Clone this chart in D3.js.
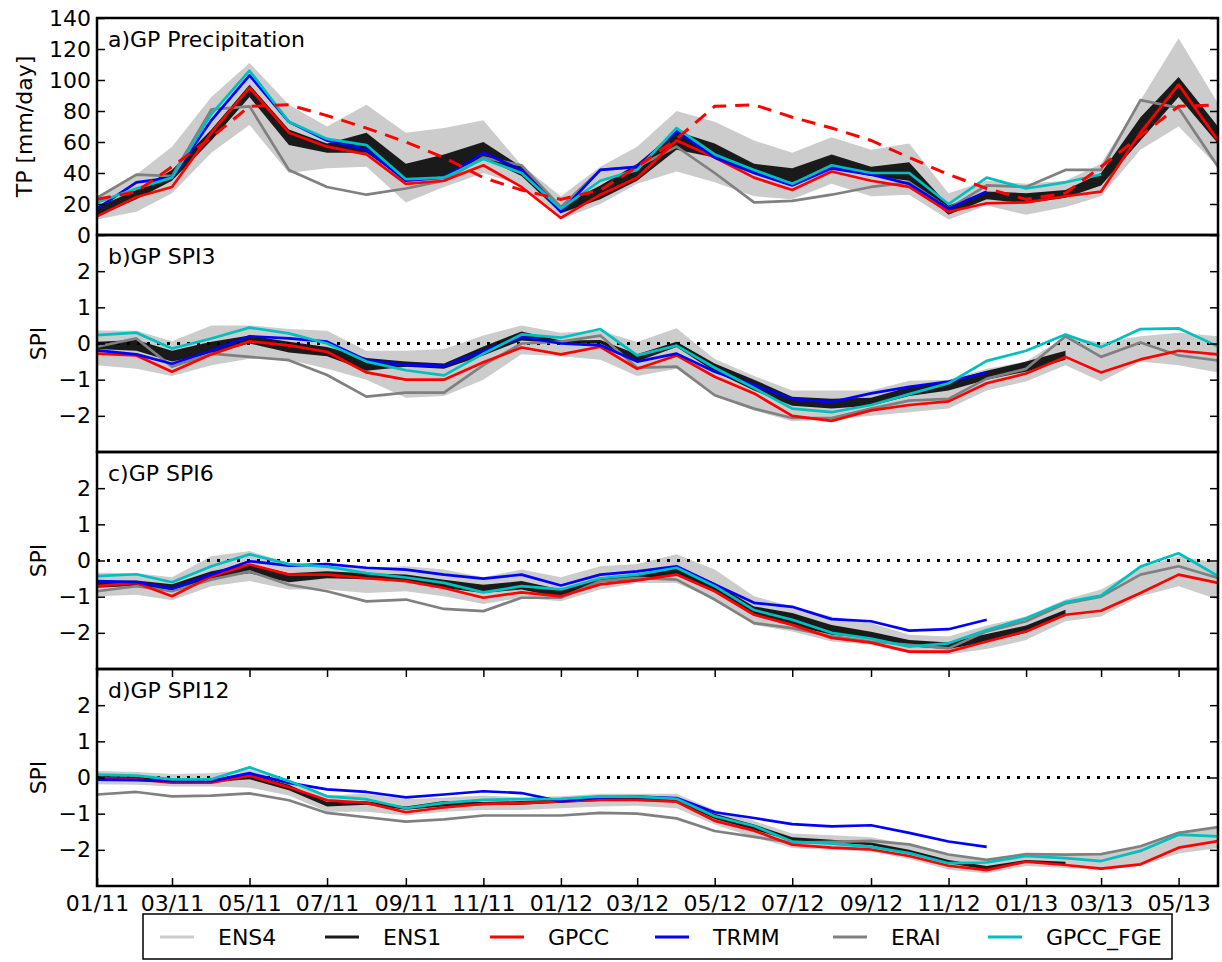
<!DOCTYPE html>
<html>
<head>
<meta charset="utf-8">
<script src="https://cdn.jsdelivr.net/npm/d3@7"></script>
<style>
  html, body { margin: 0; padding: 0; background: #fff; }
  svg { display: block; font-family: "DejaVu Sans", sans-serif; }
</style>
</head>
<body>
<svg id="chart" width="1222" height="962"></svg>
<script>
// ---- monthly time axis (first day of each month) ----
const months = [
  "2011-01","2011-02","2011-03","2011-04","2011-05","2011-06","2011-07","2011-08","2011-09","2011-10","2011-11","2011-12",
  "2012-01","2012-02","2012-03","2012-04","2012-05","2012-06","2012-07","2012-08","2012-09","2012-10","2012-11","2012-12",
  "2013-01","2013-02","2013-03","2013-04","2013-05","2013-06"
];
const xTickMonths = ["2011-01","2011-03","2011-05","2011-07","2011-09","2011-11","2012-01","2012-03","2012-05","2012-07","2012-09","2012-11","2013-01","2013-03","2013-05"];
const xTickLabels = ["01/11","03/11","05/11","07/11","09/11","11/11","01/12","03/12","05/12","07/12","09/12","11/12","01/13","03/13","05/13"];

const seriesNames = ["ENS4","ENS1","GPCC","TRMM","ERAI","GPCC_FGE"];
const seriesColors = ["#cccccc","#1a1a1a","#ff0000","#0000ff","#808080","#00bfbf"];

// ---- a) precipitation (mm/day) ----
const tpTicks = [0,20,40,60,80,100,120,140];
const tpEns4Lo = [10,15,27,53,71,40,43,44,21,31,40,32,10,20,33,41,34,25,23,33,25,26,10,19,13,18,25,55,70,44];
const tpEns4Hi = [25,39,57,89,111,84,70,84,66,69,74,45,25,44,57,80,73,61,53,63,55,59,27,35,33,35,46,87,127,85];
const tpEns1Lo = [12,23,35,61,89,58,53,53,35,38,50,38,14,23,35,55,50,40,34,43,38,35,13,23,20.5,24,32,61,89,59];
const tpEns1Hi = [18,29,42,68,97,68,59,66,46,52,60,44,19,32,46,67,59,46,43,52,44,47,19,28,27,29,40,76,102,70];
const tpGpcc   = [12,24.5,31,66,95,66,57,52,33,35,45,31,11,26,37,61,50,37,29,41,35,31,15,20.5,21,25,28,66,97,61];
const tpTrmm   = [17,34,37,74,103,73,61,55,35,37,53,42,15,42,44,67,50,40,32,43,39,33,17,28,null,null,null,null,null,null];
const tpErai   = [24,39,38,81,83,42,31,26,30,35,50,45,18,42,44,57,40,21,22,26,31,34,17,32,31,42,42,87,82,44];
const tpFge    = [21,30,37,78,106,73,62,58,36,37,49,40,17,35,42,69,52,42,33,45,40,40,20,37,30,34,39,null,null,null];
const tpClim   = [23,28,44,63,83,84,77,69,60,50,37,29,23,29,44,62,83,84,76,69,61,50,39,30,23,27,44,64,83,84];

// ---- b) SPI3 ----
const spi3Ens4Lo = [-0.6,-0.7,-0.9,-0.6,-0.42,-0.45,-0.7,-1.0,-1.5,-1.45,-1.0,-0.3,-0.35,-0.45,-0.9,-0.7,-1.45,-1.85,-2.15,-2.1,-2.0,-1.9,-1.8,-1.3,-1.05,-0.6,-1.05,-0.5,-0.6,-0.8];
const spi3Ens4Hi = [0.36,0.35,0.06,0.5,0.5,0.4,0.35,-0.2,-0.2,-0.15,0.22,0.5,0.3,0.35,0.04,0.42,-0.43,-0.9,-1.3,-1.3,-1.3,-1.03,-1.0,-0.7,-0.5,0.2,0.03,0.2,0.3,0.2];
const spi3Ens1Lo = [-0.15,-0.2,-0.5,-0.28,0,-0.25,-0.35,-0.75,-0.64,-0.7,-0.33,0.08,0,0,-0.5,-0.1,-0.78,-1.3,-1.72,-1.8,-1.72,-1.45,-1.3,-1.0,-0.78,-0.45,null,null,null,null];
const spi3Ens1Hi = [0.05,0.1,-0.2,0.05,0.22,0.05,-0.1,-0.4,-0.5,-0.55,-0.08,0.33,0.08,0.1,-0.3,0.05,-0.55,-1.0,-1.47,-1.53,-1.5,-1.2,-1.05,-0.75,-0.5,-0.2,null,null,null,null];
const spi3Gpcc = [-0.28,-0.33,-0.78,-0.3,0.06,-0.05,-0.23,-0.8,-1.0,-1.0,-0.52,-0.11,-0.3,-0.09,-0.7,-0.33,-0.92,-1.38,-2.0,-2.14,-1.85,-1.7,-1.6,-1.1,-0.83,-0.37,-0.8,-0.44,-0.2,-0.3];
const spi3Trmm = [-0.19,-0.3,-0.56,-0.2,0.2,0.14,0.05,-0.46,-0.6,-0.62,-0.2,0.18,0,-0.05,-0.5,-0.28,-0.78,-1.15,-1.53,-1.62,-1.38,-1.2,-1.05,-0.8,null,null,null,null,null,null];
const spi3Erai = [-0.09,0.14,-0.64,-0.28,-0.37,-0.46,-0.87,-1.47,-1.36,-1.36,-0.6,0,0.05,0.22,-0.67,-0.64,-1.43,-1.8,-2.06,-2.06,-1.8,-1.58,-1.53,-0.97,-0.7,0.2,-0.37,0.03,-0.33,-0.47];
const spi3Fge  = [0.23,0.3,-0.14,0.14,0.44,0.28,0,-0.5,-0.74,-0.88,-0.28,0.25,0.16,0.4,-0.33,-0.06,-0.67,-1.23,-1.8,-1.9,-1.7,-1.4,-1.1,-0.48,-0.2,0.25,-0.1,0.4,0.42,-0.08];

// ---- c) SPI6 ----
const spi6Ens4Lo = [-0.99,-0.95,-1.1,-0.71,-0.57,-0.8,-0.8,-0.9,-0.85,-0.99,-1.2,-1.03,-1.13,-0.8,-0.62,-0.62,-1.08,-1.78,-1.96,-2.24,-2.33,-2.57,-2.6,-2.45,-2.2,-1.68,-1.55,-0.99,-0.71,-1.08];
const spi6Ens4Hi = [-0.34,-0.35,-0.46,0.12,0.26,-0.06,-0.16,-0.2,-0.16,-0.25,-0.46,-0.25,-0.46,-0.16,-0.1,0.17,-0.25,-0.99,-1.27,-1.55,-1.73,-2.05,-2.1,-1.8,-1.55,-1.08,-0.8,-0.2,0.12,-0.06];
const spi6Ens1Lo = [-0.75,-0.7,-0.85,-0.5,-0.35,-0.6,-0.49,-0.52,-0.57,-0.76,-0.9,-0.8,-1.03,-0.6,-0.53,-0.37,-0.85,-1.5,-1.8,-2.05,-2.15,-2.38,-2.45,-2.25,-2.0,-1.5,null,null,null,null];
const spi6Ens1Hi = [-0.57,-0.55,-0.66,-0.3,-0.1,-0.35,-0.3,-0.35,-0.39,-0.53,-0.67,-0.57,-0.8,-0.47,-0.4,-0.15,-0.62,-1.27,-1.45,-1.78,-1.97,-2.2,-2.27,-2.03,-1.8,-1.36,null,null,null,null];
const spi6Gpcc = [-0.71,-0.62,-0.99,-0.44,-0.11,-0.39,-0.39,-0.49,-0.57,-0.76,-1.03,-0.88,-0.99,-0.66,-0.55,-0.39,-0.85,-1.5,-1.78,-2.14,-2.27,-2.52,-2.52,-2.24,-1.96,-1.5,-1.39,-0.9,-0.39,-0.62];
const spi6Trmm = [-0.57,-0.6,-0.78,-0.39,-0.02,-0.14,-0.1,-0.2,-0.25,-0.39,-0.5,-0.39,-0.69,-0.39,-0.3,-0.16,-0.66,-1.17,-1.28,-1.62,-1.68,-1.94,-1.9,-1.64,null,null,null,null,null,null];
const spi6Erai = [-0.85,-0.71,-0.85,-0.53,-0.3,-0.67,-0.85,-1.13,-1.08,-1.34,-1.4,-1.03,-1.03,-0.57,-0.48,-0.53,-1.08,-1.73,-1.87,-2.1,-2.24,-2.33,-2.43,-1.96,-1.68,-1.19,-1.0,-0.39,-0.16,-0.48];
const spi6Fge  = [-0.43,-0.38,-0.6,-0.16,0.17,-0.1,-0.17,-0.35,-0.47,-0.62,-0.88,-0.71,-0.8,-0.49,-0.39,-0.2,-0.71,-1.37,-1.64,-2.0,-2.16,-2.38,-2.29,-1.92,-1.6,-1.15,-0.97,-0.17,0.2,-0.43];

// ---- d) SPI12 ----
const spi12Ens4Lo = [-0.19,-0.2,-0.25,-0.25,-0.28,-0.5,-0.95,-0.95,-1.05,-0.95,-0.9,-0.9,-0.85,-0.8,-0.78,-0.85,-1.3,-1.65,-1.95,-2.0,-2.05,-2.25,-2.55,-2.65,-2.45,-2.5,-2.55,-2.45,-2.1,-1.95];
const spi12Ens4Hi = [0.18,0.15,0.1,0.12,0.22,-0.05,-0.5,-0.45,-0.6,-0.55,-0.5,-0.55,-0.52,-0.45,-0.45,-0.45,-0.9,-1.2,-1.55,-1.6,-1.65,-1.85,-2.12,-2.25,-2.1,-2.1,-2.12,-1.9,-1.5,-1.35];
const spi12Ens1Lo = [-0.06,-0.07,-0.13,-0.13,-0.05,-0.35,-0.8,-0.75,-0.89,-0.8,-0.77,-0.75,-0.7,-0.65,-0.65,-0.68,-1.15,-1.45,-1.75,-1.8,-1.87,-2.1,-2.37,-2.55,-2.35,-2.42,null,null,null,null];
const spi12Ens1Hi = [0.04,0.03,-0.05,-0.05,0.1,-0.2,-0.68,-0.66,-0.8,-0.65,-0.68,-0.65,-0.6,-0.55,-0.55,-0.55,-1.0,-1.3,-1.65,-1.72,-1.8,-2.0,-2.28,-2.45,-2.28,-2.33,null,null,null,null];
const spi12Gpcc = [-0.02,-0.05,-0.14,-0.14,0.05,-0.27,-0.63,-0.7,-0.96,-0.83,-0.73,-0.71,-0.66,-0.62,-0.62,-0.67,-1.2,-1.47,-1.86,-1.94,-1.99,-2.17,-2.44,-2.56,-2.33,-2.42,-2.52,-2.4,-1.94,-1.76];
const spi12Trmm = [-0.06,-0.07,-0.1,-0.1,0.12,-0.15,-0.33,-0.4,-0.55,-0.47,-0.38,-0.43,-0.66,-0.55,-0.53,-0.57,-0.96,-1.12,-1.29,-1.35,-1.32,-1.53,-1.77,-1.92,null,null,null,null,null,null];
const spi12Erai = [-0.47,-0.4,-0.52,-0.5,-0.44,-0.63,-0.98,-1.1,-1.22,-1.16,-1.05,-1.05,-1.05,-0.98,-1.0,-1.13,-1.48,-1.64,-1.8,-1.78,-1.75,-1.85,-2.13,-2.28,-2.12,-2.13,-2.12,-1.9,-1.53,-1.37];
const spi12Fge  = [0.08,0.05,-0.05,-0.05,0.28,-0.1,-0.52,-0.6,-0.85,-0.7,-0.62,-0.6,-0.59,-0.52,-0.53,-0.59,-1.07,-1.34,-1.77,-1.83,-1.92,-2.09,-2.37,-2.35,-2.17,-2.23,-2.31,-2.03,-1.58,-1.63];

const spiTicks = [-2,-1,0,1,2];

// ---- layout ----
const W = 1222, H = 962;
const plotLeft = 97, plotRight = 1218;
const panelTop = [18, 235, 452, 669];
const panelH = 217;
const FS = 22;
const LW = 2.7;

const parseMonth = d3.timeParse("%Y-%m");
const dates = months.map(parseMonth);
const x = d3.scaleTime()
  .domain([dates[0], dates[dates.length - 1]])
  .range([plotLeft, plotRight]);

const panels = [
  { title: "a)GP Precipitation", ylabel: "TP [mm/day]", domain: [0, 140], ticks: tpTicks,
    ens4: [tpEns4Lo, tpEns4Hi], ens1: [tpEns1Lo, tpEns1Hi],
    gpcc: tpGpcc, trmm: tpTrmm, erai: tpErai, fge: tpFge, clim: tpClim, zeroLine: false },
  { title: "b)GP SPI3", ylabel: "SPI", domain: [-3, 3], ticks: spiTicks,
    ens4: [spi3Ens4Lo, spi3Ens4Hi], ens1: [spi3Ens1Lo, spi3Ens1Hi],
    gpcc: spi3Gpcc, trmm: spi3Trmm, erai: spi3Erai, fge: spi3Fge, zeroLine: true },
  { title: "c)GP SPI6", ylabel: "SPI", domain: [-3, 3], ticks: spiTicks,
    ens4: [spi6Ens4Lo, spi6Ens4Hi], ens1: [spi6Ens1Lo, spi6Ens1Hi],
    gpcc: spi6Gpcc, trmm: spi6Trmm, erai: spi6Erai, fge: spi6Fge, zeroLine: true },
  { title: "d)GP SPI12", ylabel: "SPI", domain: [-3, 3], ticks: spiTicks,
    ens4: [spi12Ens4Lo, spi12Ens4Hi], ens1: [spi12Ens1Lo, spi12Ens1Hi],
    gpcc: spi12Gpcc, trmm: spi12Trmm, erai: spi12Erai, fge: spi12Fge, zeroLine: true }
];

const svg = d3.select("#chart");
const fmtMinus = v => (v < 0 ? "\u2212" + Math.abs(v) : String(v));

panels.forEach((p, pi) => {
  const top = panelTop[pi], bottom = top + panelH;
  const y = d3.scaleLinear().domain(p.domain).range([bottom, top]);
  const g = svg.append("g");

  const clipId = "clip" + pi;
  svg.append("clipPath").attr("id", clipId)
    .append("rect").attr("x", plotLeft).attr("y", top)
    .attr("width", plotRight - plotLeft).attr("height", panelH);
  const plot = g.append("g").attr("clip-path", `url(#${clipId})`);

  const band = (lo, hi) => d3.area()
    .defined((d, i) => lo[i] != null && hi[i] != null)
    .x((d, i) => x(dates[i]))
    .y0((d, i) => y(lo[i]))
    .y1((d, i) => y(hi[i]))(dates);

  const line = vals => d3.line()
    .defined((d, i) => vals[i] != null)
    .x((d, i) => x(dates[i]))
    .y((d, i) => y(vals[i]))(dates);

  // ensemble spreads
  plot.append("path").attr("d", band(p.ens4[0], p.ens4[1])).attr("fill", seriesColors[0]);
  plot.append("path").attr("d", band(p.ens1[0], p.ens1[1])).attr("fill", seriesColors[1]);

  // zero reference
  if (p.zeroLine) {
    plot.append("line")
      .attr("x1", plotLeft).attr("x2", plotRight)
      .attr("y1", y(0)).attr("y2", y(0))
      .attr("stroke", "#000").attr("stroke-width", 3)
      .attr("stroke-dasharray", "3,7");
  }

  // observation / reanalysis lines
  const lineSpecs = [
    { vals: p.erai, color: seriesColors[4] },
    { vals: p.gpcc, color: seriesColors[2] },
    { vals: p.trmm, color: seriesColors[3] },
    { vals: p.fge,  color: seriesColors[5] }
  ];
  lineSpecs.forEach(s => {
    plot.append("path").attr("d", line(s.vals))
      .attr("fill", "none").attr("stroke", s.color)
      .attr("stroke-width", LW).attr("stroke-linejoin", "round");
  });

  // GPCC monthly climatology
  if (p.clim) {
    plot.append("path").attr("d", line(p.clim))
      .attr("fill", "none").attr("stroke", "#ff0000")
      .attr("stroke-width", 3).attr("stroke-dasharray", "14,9");
  }

  // axes: ticks pointing inward on all sides
  const yTickFmt = pi === 0 ? d => String(d) : fmtMinus;
  const left = g.append("g").attr("transform", `translate(${plotLeft},0)`)
    .call(d3.axisLeft(y).tickValues(p.ticks).tickFormat(yTickFmt)
      .tickSizeInner(-8).tickSizeOuter(0).tickPadding(6));
  const right = g.append("g").attr("transform", `translate(${plotRight},0)`)
    .call(d3.axisRight(y).tickValues(p.ticks).tickFormat("")
      .tickSizeInner(-8).tickSizeOuter(0));
  [left, right].forEach(a => {
    a.select(".domain").remove();
    a.selectAll(".tick line").attr("stroke", "#000").attr("stroke-width", 1.5);
    a.selectAll(".tick text").attr("font-size", FS).attr("font-family", "DejaVu Sans").attr("fill", "#000");
  });

  if (pi === panels.length - 1) {
    const tickDates = xTickMonths.map(parseMonth);
    const bot = g.append("g").attr("transform", `translate(0,${bottom})`)
      .call(d3.axisBottom(x).tickValues(tickDates).tickFormat((d, i) => xTickLabels[i])
        .tickSizeInner(-8).tickSizeOuter(0).tickPadding(9));
    const tp = g.append("g").attr("transform", `translate(0,${top})`)
      .call(d3.axisTop(x).tickValues(tickDates).tickFormat("")
        .tickSizeInner(-8).tickSizeOuter(0));
    [bot, tp].forEach(a => {
      a.select(".domain").remove();
      a.selectAll(".tick line").attr("stroke", "#000").attr("stroke-width", 1.5);
      a.selectAll(".tick text").attr("font-size", FS).attr("font-family", "DejaVu Sans").attr("fill", "#000");
    });
  }

  // frame
  g.append("rect").attr("x", plotLeft).attr("y", top)
    .attr("width", plotRight - plotLeft).attr("height", panelH)
    .attr("fill", "none").attr("stroke", "#000").attr("stroke-width", 2.5);

  // panel title and y label
  g.append("text").attr("x", plotLeft + 11).attr("y", top + 29)
    .attr("font-size", FS).text(p.title);
  const ylx = pi === 0 ? 24 : 38;
  g.append("text")
    .attr("transform", `translate(${ylx},${top + panelH / 2}) rotate(-90)`)
    .attr("text-anchor", "middle").attr("dominant-baseline", "central")
    .attr("font-size", FS).text(p.ylabel);
});

// ---- legend ----
const legX = [160, 325, 490, 655, 833, 988];
const legY = 937;
const legend = svg.append("g");
legend.append("rect").attr("x", 143).attr("y", 914).attr("width", 1029).attr("height", 45)
  .attr("fill", "#fff").attr("stroke", "#000").attr("stroke-width", 1.5);
seriesNames.forEach((name, i) => {
  legend.append("line")
    .attr("x1", legX[i]).attr("x2", legX[i] + 34)
    .attr("y1", legY).attr("y2", legY)
    .attr("stroke", seriesColors[i]).attr("stroke-width", 3);
  legend.append("text").attr("x", legX[i] + 58).attr("y", legY + 8)
    .attr("font-size", FS).text(name);
});
</script>
</body>
</html>
